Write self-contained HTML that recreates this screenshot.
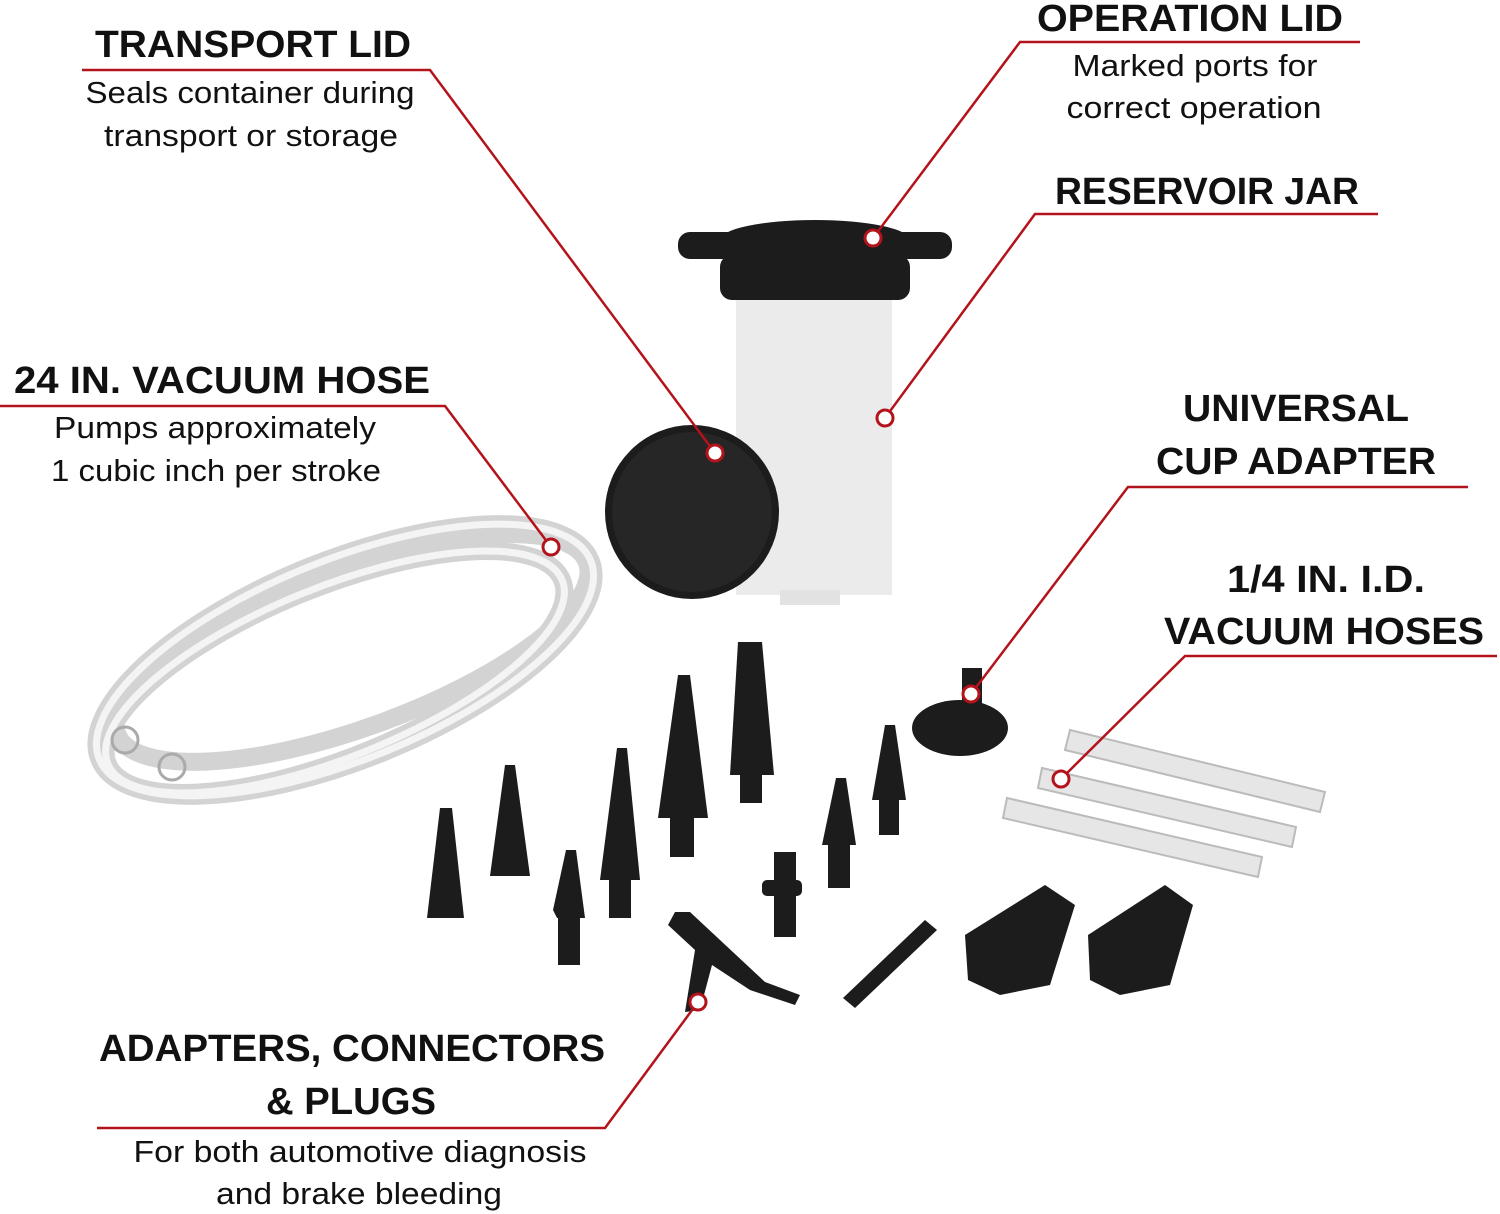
<!DOCTYPE html>
<html><head><meta charset="utf-8"><style>
html,body{margin:0;padding:0;background:#fff;}
svg{display:block}
.h{font-family:"Liberation Sans",sans-serif;font-weight:bold;font-size:38px;fill:#111;text-anchor:middle}
.s{font-family:"Liberation Sans",sans-serif;font-size:31px;fill:#111;text-anchor:middle}
.l{stroke:#b3131a;stroke-width:2.5;fill:none}
.d{fill:#fff;stroke:#b3131a;stroke-width:3}
.k{fill:#1c1c1c}
</style></head><body>
<svg width="1500" height="1214" viewBox="0 0 1500 1214">
<!-- hose coil -->
<g fill="none" stroke="#cfcfcf" stroke-width="18" opacity="0.9">
<ellipse cx="345" cy="660" rx="265" ry="100" transform="rotate(-22 345 660)"/>
<ellipse cx="335" cy="672" rx="245" ry="85" transform="rotate(-22 335 672)"/>
<ellipse cx="352" cy="648" rx="250" ry="80" transform="rotate(-20 352 648)"/>
</g>
<g fill="none" stroke="#f4f4f4" stroke-width="7">
<ellipse cx="345" cy="660" rx="265" ry="100" transform="rotate(-22 345 660)"/>
<ellipse cx="335" cy="672" rx="245" ry="85" transform="rotate(-22 335 672)"/>
</g>
<circle cx="125" cy="740" r="13" fill="none" stroke="#aaa" stroke-width="3"/>
<circle cx="172" cy="767" r="13" fill="none" stroke="#aaa" stroke-width="3"/>
<!-- jar -->
<rect x="736" y="295" width="156" height="300" fill="#ebebeb"/>
<rect x="780" y="590" width="60" height="15" fill="#e2e2e2"/>
<rect x="678" y="232" width="274" height="27" rx="12" class="k"/>
<ellipse cx="815" cy="240" rx="95" ry="20" class="k"/>
<rect x="720" y="255" width="190" height="45" rx="12" class="k"/>
<!-- transport lid -->
<circle cx="692" cy="512" r="87" class="k"/>
<circle cx="692" cy="512" r="80" fill="#262626"/>
<!-- tips -->
<g class="k">
<polygon points="440,808 452,808 464,918 427,918"/>
<polygon points="505,765 515,765 530,876 490,876"/>
<polygon points="566,850 576,850 585,918 557,918 553,910"/>
<rect x="558" y="910" width="22" height="55"/>
<polygon points="617,748 627,748 640,880 600,880"/>
<rect x="609" y="870" width="22" height="48"/>
<polygon points="678,675 690,675 708,818 658,818"/>
<rect x="670" y="815" width="24" height="42"/>
<polygon points="738,642 762,642 774,775 730,775"/>
<rect x="740" y="770" width="22" height="33"/>
<polygon points="836,778 846,778 856,845 822,845"/>
<rect x="828" y="840" width="22" height="48"/>
<polygon points="885,725 895,725 906,800 872,800"/>
<rect x="879" y="795" width="20" height="40"/>
<rect x="774" y="852" width="22" height="85"/>
<rect x="762" y="880" width="40" height="16" rx="5"/>
<polygon points="675,912 690,912 765,982 800,995 795,1005 750,990 712,965 700,1010 685,1012 695,950 668,925"/>
<polygon points="925,920 937,930 855,1008 843,998"/>
<polygon points="965,935 1045,885 1075,905 1050,985 1000,995 968,980"/>
<polygon points="1088,935 1165,885 1193,905 1170,985 1120,995 1090,980"/>
<ellipse cx="960" cy="728" rx="48" ry="28"/>
<rect x="962" y="668" width="20" height="45"/>
</g>
<!-- short hoses -->
<g fill="#e6e6e6" stroke="#bbb" stroke-width="2">
<polygon points="1070,730 1325,792 1320,812 1065,750"/>
<polygon points="1042,768 1296,827 1292,847 1038,788"/>
<polygon points="1007,798 1262,857 1258,877 1003,818"/>
</g>
<!-- connectors -->
<polyline class="l" points="82,70 430,70 715,453"/>
<polyline class="l" points="1360,42 1020,42 873,238"/>
<polyline class="l" points="1378,214 1035,214 885,418"/>
<polyline class="l" points="0,406 445,406 551,547"/>
<polyline class="l" points="1468,487 1128,487 971,694"/>
<polyline class="l" points="1497,656 1185,656 1061,779"/>
<polyline class="l" points="97,1128 605,1128 698,1002"/>
<circle class="d" cx="715" cy="453" r="8"/>
<circle class="d" cx="873" cy="238" r="8"/>
<circle class="d" cx="885" cy="418" r="8"/>
<circle class="d" cx="551" cy="547" r="8"/>
<circle class="d" cx="971" cy="694" r="8"/>
<circle class="d" cx="1061" cy="779" r="8"/>
<circle class="d" cx="698" cy="1002" r="8"/>
<!-- text -->
<text class="h" x="253" y="57" textLength="316" lengthAdjust="spacingAndGlyphs">TRANSPORT LID</text>
<text class="s" x="250" y="103" textLength="329" lengthAdjust="spacingAndGlyphs">Seals container during</text>
<text class="s" x="251" y="146" textLength="294" lengthAdjust="spacingAndGlyphs">transport or storage</text>
<text class="h" x="1190" y="31" textLength="306" lengthAdjust="spacingAndGlyphs">OPERATION LID</text>
<text class="s" x="1195" y="76" textLength="245" lengthAdjust="spacingAndGlyphs">Marked ports for</text>
<text class="s" x="1194" y="118" textLength="255" lengthAdjust="spacingAndGlyphs">correct operation</text>
<text class="h" x="1207" y="204" textLength="304" lengthAdjust="spacingAndGlyphs">RESERVOIR JAR</text>
<text class="h" x="222" y="393" textLength="416" lengthAdjust="spacingAndGlyphs">24 IN. VACUUM HOSE</text>
<text class="s" x="215" y="438" textLength="322" lengthAdjust="spacingAndGlyphs">Pumps approximately</text>
<text class="s" x="216" y="481" textLength="330" lengthAdjust="spacingAndGlyphs">1 cubic inch per stroke</text>
<text class="h" x="1296" y="421" textLength="226" lengthAdjust="spacingAndGlyphs">UNIVERSAL</text>
<text class="h" x="1296" y="474" textLength="280" lengthAdjust="spacingAndGlyphs">CUP ADAPTER</text>
<text class="h" x="1326" y="592" textLength="198" lengthAdjust="spacingAndGlyphs">1/4 IN. I.D.</text>
<text class="h" x="1324" y="644" textLength="320" lengthAdjust="spacingAndGlyphs">VACUUM HOSES</text>
<text class="h" x="352" y="1061" textLength="506" lengthAdjust="spacingAndGlyphs">ADAPTERS, CONNECTORS</text>
<text class="h" x="351" y="1114" textLength="170" lengthAdjust="spacingAndGlyphs">&amp; PLUGS</text>
<text class="s" x="360" y="1162" textLength="453" lengthAdjust="spacingAndGlyphs">For both automotive diagnosis</text>
<text class="s" x="359" y="1204" textLength="286" lengthAdjust="spacingAndGlyphs">and brake bleeding</text>
</svg>
</body></html>
